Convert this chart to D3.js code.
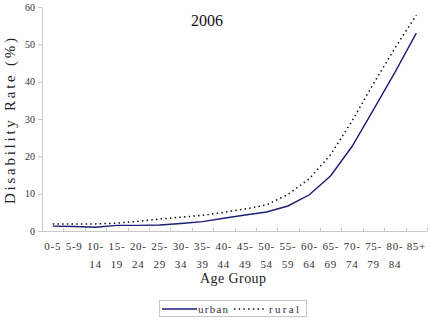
<!DOCTYPE html>
<html>
<head>
<meta charset="utf-8">
<script src="https://cdn.jsdelivr.net/npm/d3@7"></script>
<style>
  body { margin: 0; background: #fff; }
</style>
</head>
<body>
<svg id="chart" width="430" height="320"></svg>
<script>
var ageGroups = ["0-5", "5-9", "10-14", "15-19", "20-24", "25-29", "30-34", "35-39", "40-44",
                 "45-49", "50-54", "55-59", "60-64", "65-69", "70-74", "75-79", "80-84", "85+"];
var urban = [1.3, 1.2, 1.0, 1.5, 1.5, 1.6, 2.0, 2.5, 3.4, 4.3, 5.1, 6.7, 9.7, 14.8, 22.7, 32.5, 42.5, 53.0];
var rural = [1.9, 1.9, 1.9, 2.1, 2.6, 3.2, 3.7, 4.2, 5.0, 5.9, 7.0, 9.8, 14.0, 20.5, 29.5, 39.5, 49.0, 57.8];
var yTicks = [0, 10, 20, 30, 40, 50, 60];

var FONT = '"Liberation Serif", "DejaVu Serif", serif';
var svg = d3.select('#chart').attr('font-family', FONT);
var mLeft = 42, mRight = 427, mTop = 7, mBottom = 231;

var x = d3.scaleBand().domain(ageGroups).range([mLeft, mRight]);
var y = d3.scaleLinear().domain([0, 60]).range([mBottom, mTop]);

// y axis
var yAxis = svg.append('g')
    .attr('transform', 'translate(' + mLeft + ',0)')
    .call(d3.axisLeft(y).tickValues(yTicks).tickSize(4).tickPadding(3));
yAxis.select('.domain').attr('stroke', '#c8c8c8');
yAxis.selectAll('.tick line').attr('stroke', '#c8c8c8');
yAxis.selectAll('.tick text')
    .attr('font-family', FONT)
    .attr('font-size', 10).attr('fill', '#333');

// x axis: ticks sit on band boundaries, pointing up
var bounds = ageGroups.map(function (d) { return x(d); }).slice(1).concat([mRight]);
var xg = svg.append('g');
xg.append('line')
    .attr('x1', mLeft).attr('x2', mRight)
    .attr('y1', mBottom + 0.5).attr('y2', mBottom + 0.5)
    .attr('stroke', '#c8c8c8');
xg.selectAll('line.tk').data(bounds).enter().append('line')
    .attr('class', 'tk')
    .attr('x1', function (d) { return Math.round(d) + 0.5; })
    .attr('x2', function (d) { return Math.round(d) + 0.5; })
    .attr('y1', mBottom - 3).attr('y2', mBottom)
    .attr('stroke', '#c8c8c8');

var lbl = xg.selectAll('text.lbl').data(ageGroups).enter().append('text')
    .attr('class', 'lbl')
    .attr('text-anchor', 'middle')
    .attr('font-size', 11)
    .attr('letter-spacing', 0.7)
    .attr('fill', '#333')
    .attr('transform', function (d) { return 'translate(' + (x(d) + x.bandwidth() / 2) + ',0)'; });
lbl.each(function (d) {
    var parts = d.length > 3 ? [d.split('-')[0] + '-', d.split('-')[1]] : [d];
    var t = d3.select(this);
    parts.forEach(function (p, i) {
        t.append('tspan').attr('x', 0).attr('y', 250 + i * 18).text(p);
    });
});

// lines
var line = d3.line()
    .x(function (d, i) { return x(ageGroups[i]) + x.bandwidth() / 2; })
    .y(function (d) { return y(d); });

svg.append('path').datum(rural)
    .attr('d', line)
    .attr('fill', 'none')
    .attr('stroke', '#111')
    .attr('stroke-width', 1.5)
    .attr('stroke-dasharray', '1.5,3.2');

svg.append('path').datum(urban)
    .attr('d', line)
    .attr('fill', 'none')
    .attr('stroke', '#1c1c74')
    .attr('stroke-width', 1.4);

// titles
svg.append('text').attr('x', 207).attr('y', 26)
    .attr('text-anchor', 'middle')
    .attr('font-size', 16).attr('fill', '#111').text('2006');

svg.append('text')
    .attr('transform', 'translate(15,121) rotate(-90)')
    .attr('text-anchor', 'middle')
    .attr('font-size', 15).attr('fill', '#222')
    .attr('textLength', 166).attr('lengthAdjust', 'spacing')
    .text('Disability Rate (%)');

svg.append('text').attr('x', 233).attr('y', 283)
    .attr('text-anchor', 'middle')
    .attr('font-size', 14).attr('fill', '#222')
    .attr('textLength', 66).attr('lengthAdjust', 'spacing')
    .text('Age Group');

// legend
var lg = svg.append('g');
lg.append('rect').attr('x', 159.5).attr('y', 300.5).attr('width', 147).attr('height', 16)
    .attr('fill', '#fff').attr('stroke', '#c8c8c8');
lg.append('line').attr('x1', 162).attr('x2', 197).attr('y1', 309).attr('y2', 309)
    .attr('stroke', '#1c1c74').attr('stroke-width', 1.4);
lg.append('text').attr('x', 198).attr('y', 312.5).attr('font-size', 11).attr('fill', '#333')
    .attr('textLength', 30).attr('lengthAdjust', 'spacing').text('urban');
lg.append('line').attr('x1', 234).attr('x2', 265).attr('y1', 309).attr('y2', 309)
    .attr('stroke', '#111').attr('stroke-width', 1.5).attr('stroke-dasharray', '1.5,3.2');
lg.append('text').attr('x', 269).attr('y', 312.5).attr('font-size', 11).attr('fill', '#333')
    .attr('textLength', 30).attr('lengthAdjust', 'spacing').text('rural');
</script>
</body>
</html>
